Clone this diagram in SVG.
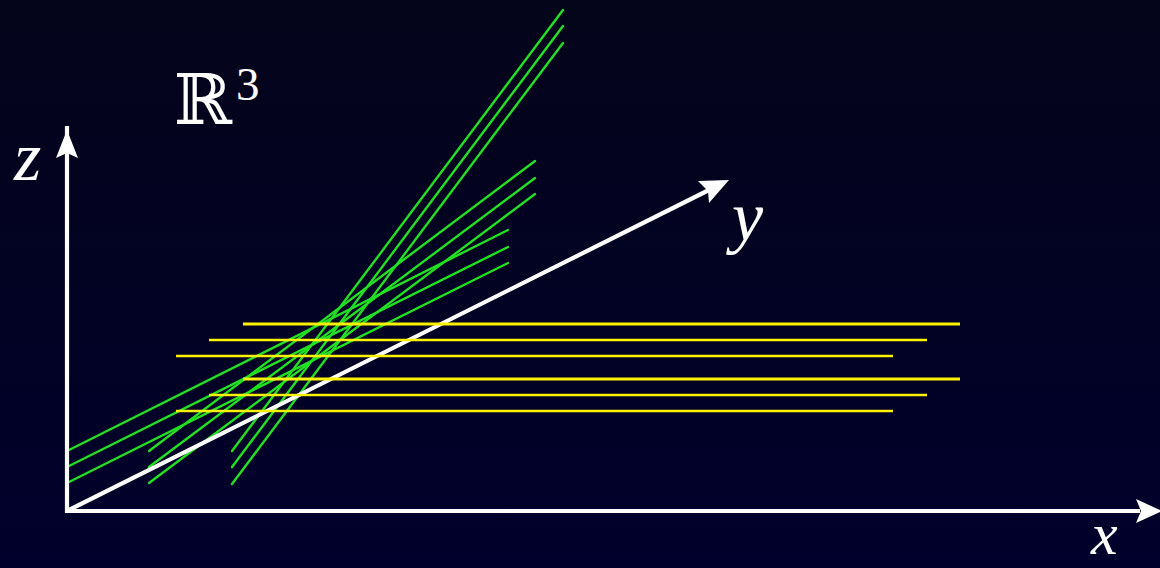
<svg xmlns="http://www.w3.org/2000/svg" width="1160" height="568" viewBox="0 0 1160 568">
<defs>
<linearGradient id="bg" x1="0" y1="0" x2="0" y2="1">
<stop offset="0" stop-color="#04041a"/>
<stop offset="1" stop-color="#00002c"/>
</linearGradient>
<style>
.g{stroke:#22e022;stroke-width:2.4;fill:none;stroke-linecap:round}
.yl{stroke:#fff200;stroke-width:3;fill:none}
.yt{stroke:#fff200;stroke-width:2.5;fill:none}
.ax{stroke:#ffffff;stroke-width:4.2;fill:none}
.ah{fill:#ffffff}
.lbl{fill:#ffffff;font-family:"Liberation Serif","DejaVu Serif",serif;font-style:italic}
</style>
</defs>
<rect width="1160" height="568" fill="url(#bg)"/>
<g id="green-lines">
<line class="g" x1="232" y1="451" x2="563" y2="10"/>
<line class="g" x1="232" y1="467" x2="563" y2="26"/>
<line class="g" x1="232" y1="484" x2="563" y2="43"/>
<line class="g" x1="149" y1="451" x2="535" y2="161"/>
<line class="g" x1="149" y1="467" x2="535" y2="178"/>
<line class="g" x1="149" y1="483" x2="535" y2="194"/>
<line class="g" x1="67" y1="451" x2="508" y2="230"/>
<line class="g" x1="67" y1="467" x2="508" y2="247"/>
<line class="g" x1="67" y1="483" x2="508" y2="263"/>
</g>
<g id="axes">
<line class="ax" x1="67" y1="513" x2="67" y2="126"/>
<polygon class="ah" points="67,130 78,158 67,153 56,158"/>
<line class="ax" x1="65" y1="511" x2="1140" y2="511"/>
<polygon class="ah" points="1162,511 1136,523 1141,511 1136,499"/>
<line class="ax" x1="67" y1="511" x2="715" y2="187"/>
<polygon class="ah" points="729,180 709,203 708,191 698,181"/>
</g>
<g id="yellow-lines">
<line class="yl" x1="243" y1="324" x2="960" y2="324"/>
<line class="yt" x1="209" y1="340" x2="927" y2="340"/>
<line class="yt" x1="176" y1="356" x2="893" y2="356"/>
<line class="yl" x1="243" y1="379" x2="960" y2="379"/>
<line class="yt" x1="209" y1="395" x2="927" y2="395"/>
<line class="yt" x1="176" y1="411" x2="893" y2="411"/>
</g>
<g id="labels">
<text class="lbl" x="14" y="180" font-size="70">z</text>
<text class="lbl" x="732" y="240" font-size="70">y</text>
<text class="lbl" x="1091" y="554" font-size="60">x</text>
<text x="174" y="124" fill="#ffffff" font-family="DejaVu Serif,serif" font-size="70">ℝ</text>
<text x="236" y="100" fill="#ffffff" font-family="Liberation Serif,serif" font-size="47">3</text>
</g>
</svg>
